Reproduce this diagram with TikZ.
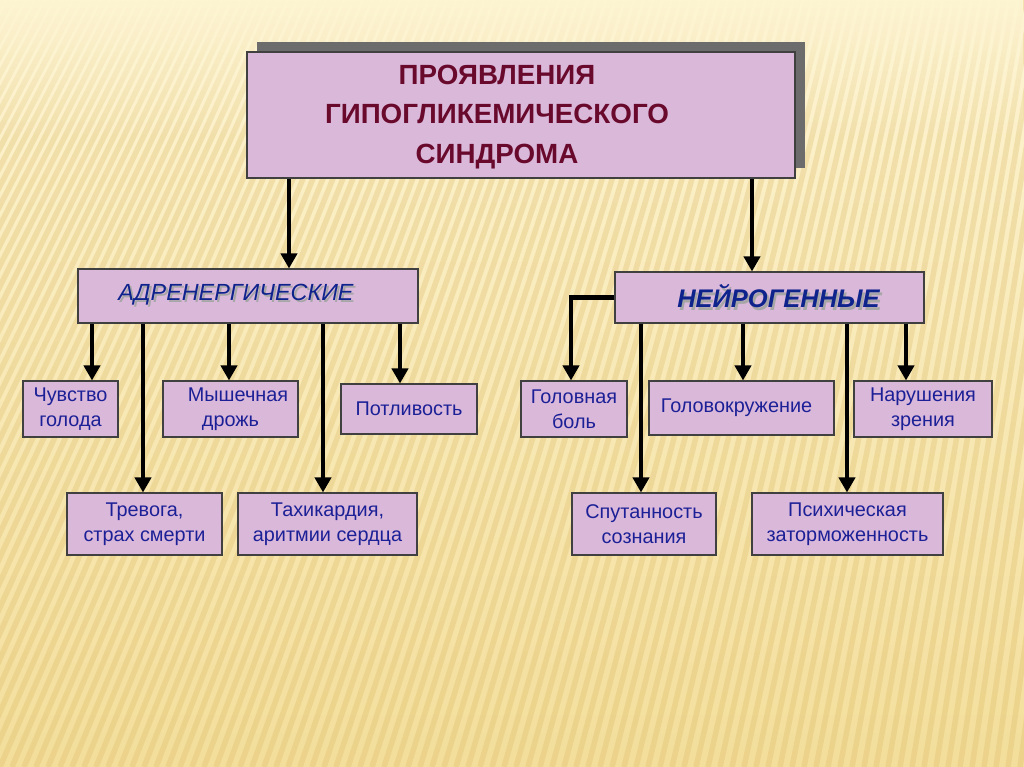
\documentclass[tikz,border=0pt]{standalone}
\usepackage{fontspec}
\setmainfont{Liberation Sans}
\usetikzlibrary{arrows.meta, positioning, shadows, fadings}

\definecolor{boxfill}{RGB}{218,184,218}
\definecolor{leaftext}{RGB}{28,32,150}
\definecolor{titletext}{RGB}{105,10,45}
\definecolor{catblue}{RGB}{15,35,140}
\definecolor{bgtop}{RGB}{253,244,210}
\definecolor{bgbottom}{RGB}{243,222,155}
\definecolor{stripecol}{RGB}{220,185,100}

\newcommand{\shadowtext}[1]{\makebox[0pt][l]{\hspace{1.2pt}\raisebox{-1.2pt}{\color{gray!70}#1}}#1}

\begin{document}
\begin{tikzpicture}[
        x=0.2mm, y=-0.2mm,
        box/.style={draw=black!75, fill=boxfill, line width=0.6pt, inner sep=0pt, align=center},
        leaf/.style={box, text=leaftext, font=\fontsize{11.3}{14.5}\selectfont},
        cat/.style={box, text=catblue},
        arrow/.style={-{Triangle[length=3mm, width=3.2mm]}, line width=2.3pt},
        stripe/.style={draw=stripecol, line width=1.1mm, opacity=0.3}
    ]
    % background
    \useasboundingbox (0,0) rectangle (1024,767);
    \fill[top color=bgtop, bottom color=bgbottom] (0,0) rectangle (1024,767);
    \foreach \s in {-40,...,110}
        \draw[stripe] (\s*12,767) -- ++({330-0.22*\s*12},-767);
    \fill[bgtop, path fading=south] (0,0) rectangle (1024,140);

    % main box
    \node[box, minimum width=109.6mm, minimum height=25.2mm,
          general shadow={fill=gray!85!black, shadow xshift=2mm, shadow yshift=2mm}] (top) at (521,115) {};
    \node[text=titletext, font=\fontsize{15.8}{22.6}\selectfont\bfseries, align=center] (title) at (497,117)
        {ПРОЯВЛЕНИЯ\\ГИПОГЛИКЕМИЧЕСКОГО\\СИНДРОМА};

    % categories
    \node[cat, minimum width=68mm, minimum height=10.8mm, font=\fontsize{13.3}{16}\selectfont\itshape] (adr) at (248,296)
        {\hspace*{-4.8mm}\shadowtext{АДРЕНЕРГИЧЕСКИЕ}};
    \node[cat, minimum width=61.8mm, minimum height=10.2mm, font=\fontsize{14.5}{17}\selectfont\bfseries\itshape] (neuro) at (769.5,297.5)
        {\hspace*{3.6mm}\shadowtext{НЕЙРОГЕННЫЕ}};

    % adrenergic signs
    \node[leaf, minimum width=19mm, minimum height=11.2mm] (hunger) at (70.5,409) {Чувство\\голода};
    \node[leaf, minimum width=27mm, minimum height=11.2mm] (tremor) at (230.5,409) {\hspace*{3mm}Мышечная\\дрожь};
    \node[leaf, minimum width=27.2mm, minimum height=10mm] (sweat) at (409,409) {Потливость};
    \node[leaf, minimum width=31mm, minimum height=12.4mm] (anxiety) at (144.5,524) {Тревога,\\страх смерти};
    \node[leaf, minimum width=35.8mm, minimum height=12.4mm] (tachy) at (327.5,524) {Тахикардия,\\аритмии сердца};

    % neurogenic signs
    \node[leaf, minimum width=21.2mm, minimum height=11.2mm] (headache) at (574,409) {Головная\\боль};
    \node[leaf, minimum width=37mm, minimum height=10.8mm] (dizzy) at (741.5,408) {Головокружение\hspace*{2mm}};
    \node[leaf, minimum width=27.6mm, minimum height=11.2mm] (vision) at (923,409) {Нарушения\\зрения};
    \node[leaf, minimum width=28.8mm, minimum height=12.4mm] (confusion) at (644,524) {Спутанность\\сознания};
    \node[leaf, minimum width=38.2mm, minimum height=12.4mm] (stupor) at (847.5,524) {Психическая\\заторможенность};

    % arrows
    \draw[arrow] (289,0 |- top.south) -- (289,0 |- adr.north);
    \draw[arrow] (752,0 |- top.south) -- (752,0 |- neuro.north);

    \draw[arrow] (92,0 |- adr.south) -- (92,0 |- hunger.north);
    \draw[arrow] (143,0 |- adr.south) -- (143,0 |- anxiety.north);
    \draw[arrow] (229,0 |- adr.south) -- (229,0 |- tremor.north);
    \draw[arrow] (323,0 |- adr.south) -- (323,0 |- tachy.north);
    \draw[arrow] (400,0 |- adr.south) -- (400,0 |- sweat.north);

    \draw[arrow] (neuro.west) -| (571,0 |- headache.north);
    \draw[arrow] (641,0 |- neuro.south) -- (641,0 |- confusion.north);
    \draw[arrow] (743,0 |- neuro.south) -- (743,0 |- dizzy.north);
    \draw[arrow] (847,0 |- neuro.south) -- (847,0 |- stupor.north);
    \draw[arrow] (906,0 |- neuro.south) -- (906,0 |- vision.north);
\end{tikzpicture}
\end{document}
